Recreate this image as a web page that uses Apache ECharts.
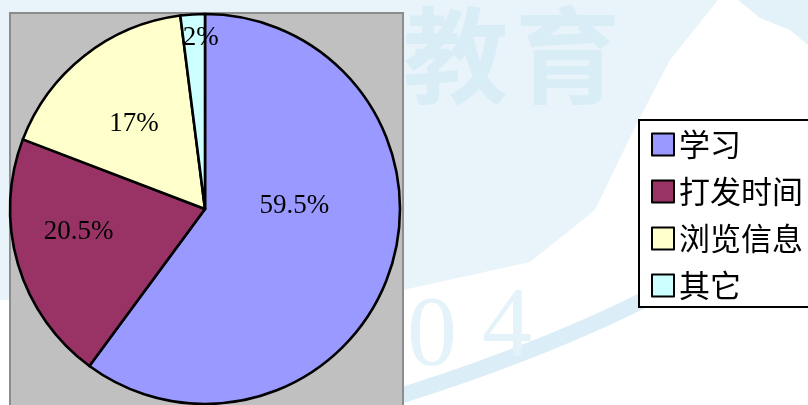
<!DOCTYPE html>
<html>
<head>
<meta charset="utf-8">
<script src="https://cdn.jsdelivr.net/npm/echarts@6/dist/echarts.min.js"></script>
<style>html,body{margin:0;padding:0;background:#fff}#c{width:808px;height:405px}</style>
</head>
<body>
<div id="c"></div>
<script>
var categories = ['学习', '打发时间', '浏览信息', '其它'];
var values = [59.5, 20.5, 17, 2];
var colors = ['#9999ff', '#993366', '#ffffcc', '#ccffff'];
var labelOffsets = [[-6, -34], [-30, -5], [-9, -6], [2, -71]];

var chart = echarts.init(document.getElementById('c'), null, {renderer: 'canvas'});
var data = categories.map(function (c, i) {
  return {name: c, value: values[i], itemStyle: {color: colors[i]}, label: {offset: labelOffsets[i]}};
});
chart.setOption({
  animation: false,
  backgroundColor: '#fff',
  graphic: [
    {type: 'polygon', z: -10, shape: {points: [[0, 0], [718, 0], [670, 60], [636, 125], [595, 210], [530, 262], [403, 290], [0, 300]]}, style: {fill: '#e8f4fa'}},
    {type: 'polygon', z: -10, shape: {points: [[738, 0], [808, 0], [808, 45], [790, 30], [760, 18]]}, style: {fill: '#e3f2f9'}},
    {type: 'bezierCurve', z: -9, shape: {x1: 380, y1: 402, cpx1: 650, cpy1: 320, x2: 808, y2: 200}, style: {fill: null, stroke: '#dbeef8', lineWidth: 16}},
    {type: 'text', z: -8, left: 403, top: 3, style: {text: '教', fill: '#d9edf7', font: 'bold 105px "Noto Sans CJK SC"'}},
    {type: 'text', z: -8, left: 515, top: 3, style: {text: '育', fill: '#d9edf7', font: 'bold 105px "Noto Sans CJK SC"'}},
    {type: 'text', z: -8, left: 407, top: 288, style: {text: '0', fill: '#e4f2f9', font: '100px "Liberation Serif"'}},
    {type: 'text', z: -8, left: 482, top: 279, style: {text: '4', fill: '#e4f2f9', font: '100px "Liberation Serif"'}},
    {type: 'rect', z: -5, shape: {x: 10, y: 13, width: 393, height: 400}, style: {fill: '#c0c0c0', stroke: '#8c8c8c', lineWidth: 2}}
  ],
  legend: {
    orient: 'vertical',
    left: 639,
    top: 120,
    padding: [9, 12, 6, 12],
    backgroundColor: '#fff',
    borderColor: '#000',
    borderWidth: 2,
    borderRadius: 0,
    itemWidth: 22,
    itemHeight: 22,
    itemGap: 16,
    icon: 'rect',
    itemStyle: {borderColor: '#000', borderWidth: 2},
    textStyle: {fontSize: 31, lineHeight: 30, color: '#000', fontFamily: '"Noto Sans CJK SC"'},
    data: categories
  },
  series: [{
    type: 'pie',
    center: [205, 209],
    radius: 195,
    startAngle: 90,
    clockwise: true,
    silent: true,
    emphasis: {disabled: true},
    itemStyle: {borderColor: '#000', borderWidth: 2.6},
    label: {
      show: true,
      position: 'inner',
      fontFamily: '"Liberation Serif"',
      fontSize: 27,
      color: '#000',
      formatter: function (p) { return p.value + '%'; }
    },
    labelLine: {show: false},
    data: data
  }]
});
</script>
</body>
</html>
